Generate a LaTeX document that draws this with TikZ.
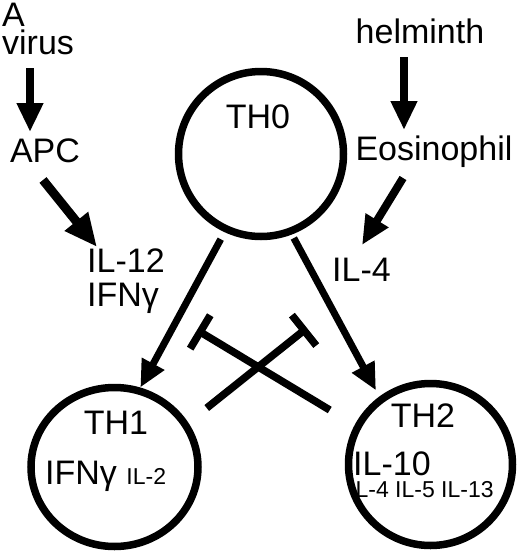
\documentclass[tikz,border=0pt]{standalone}
\usepackage{fontspec}
\setmainfont{Liberation Sans}
\usepackage{tikz}
\usetikzlibrary{arrows.meta, positioning, shapes.geometric}

\begin{document}
\begin{tikzpicture}[x=1pt, y=-1pt,
    lbl/.style={inner sep=0pt, font=\fontsize{34}{34}\selectfont},
    cell/.style={draw, ellipse, line width=7.5pt, inner sep=0pt},
    src/.style={line width=8pt, -{Triangle[length=29pt, width=25pt]}},
    act/.style={line width=7pt, -{Triangle[length=27pt, width=24pt]}},
    inh/.style={line width=7.5pt, -{Bar[width=39pt]}}]
    \useasboundingbox (0,0) rectangle (520,552);

    % Stimuli and cytokines
    \node[lbl, align=left, anchor=south west] (virus) at (2,55) {A\\[-6pt]virus};
    \node[lbl, anchor=base] (apc) at (45,162) {APC};
    \node[lbl, align=left, anchor=north west] (il12) at (87,249) {IL-12\\IFNγ};
    \node[lbl, anchor=base] (helminth) at (420,43) {helminth};
    \node[lbl, anchor=base] (eos) at (434,160) {Eosinophil};
    \node[lbl, anchor=base west] (il4) at (332,281) {IL-4};

    % Cell texts
    \node[lbl, anchor=base] (th0name) at (258,128) {TH0};
    \node[lbl, anchor=base] (th1name) at (116,434) {TH1};
    \node[lbl, anchor=base west] (th1cyt) at (45,484) {IFNγ \fontsize{23}{24}\selectfont IL-2};
    \node[lbl, anchor=base] (th2name) at (423,427) {TH2};
    \node[lbl, anchor=base west] (th2cyt) at (353,475) {IL-10};
    \node[lbl, anchor=base west, font=\fontsize{23}{24}\selectfont] (th2more) at (349,497) {IL-4 IL-5 IL-13};

    % Cells
    \node[cell, minimum width=165pt, minimum height=165pt] (th0) at (261,154) {};
    \node[cell, minimum width=167pt, minimum height=159pt] (th1) at (114.5,467) {};
    \node[cell, minimum width=164pt, minimum height=162pt] (th2) at (430.5,464.5) {};

    % Input arrows
    \draw[src] ([shift={(28,13)}]virus.south west) -- ([shift={(-15,-30)}]apc.base);
    \draw[src, line width=9pt, -{Triangle[length=33pt, width=28pt]}]
        ([shift={(-2,18)}]apc.base) -- ([shift={(10,-2)}]il12.north west);
    \draw[src] ([shift={(-16,14)}]helminth.base) -- ([shift={(-30,-30)}]eos.base);
    \draw[src] ([shift={(-31,18)}]eos.base) -- ([shift={(30,-36)}]il4.base west);

    % Differentiation
    \draw[act, shorten <=8pt] (th0.245) -- (th1.72);
    \draw[act, shorten <=4pt, shorten >=7pt] (th0.291) -- (th2.127);

    % Cross inhibition
    \coordinate (stop1) at (197,330);
    \coordinate (stop2) at (307,328);
    \draw[inh] ([shift={(-15,-54.5)}]th2.west) -- (stop1);
    \draw[inh] ([shift={(5,-59)}]th1.east) -- (stop2);
\end{tikzpicture}
\end{document}
